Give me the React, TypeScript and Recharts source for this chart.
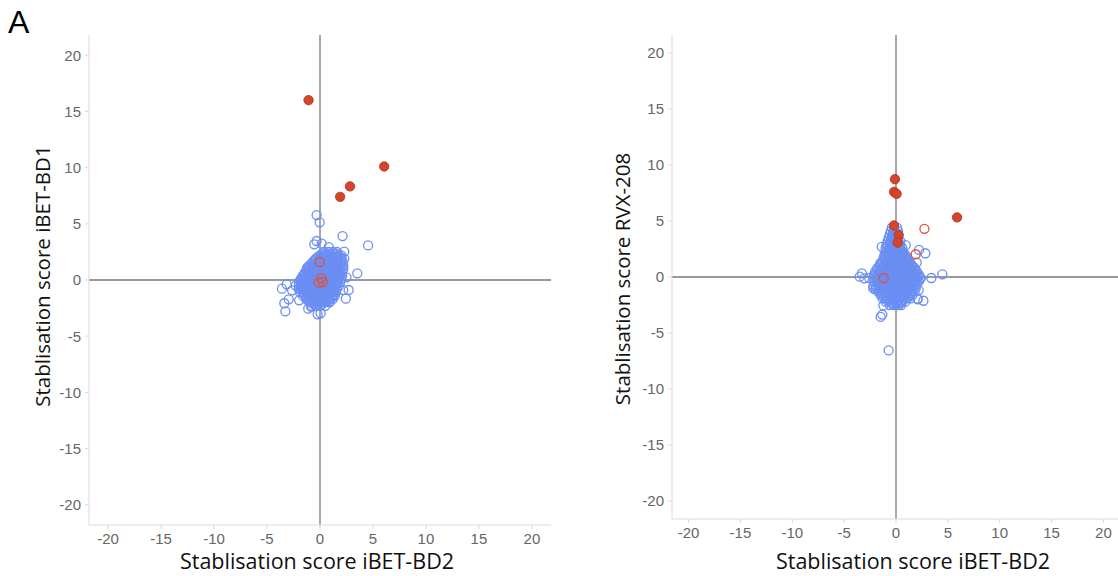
import { ScatterChart, Scatter, XAxis, YAxis, ReferenceLine } from "recharts"

type Pt = [number, number]

const tickValues = [-20, -15, -10, -5, 0, 5, 10, 15, 20]

// panel 1: iBET-BD2 (x) vs iBET-BD1 (y)
const bd1Hits: Pt[] = [
  [-1.08, 16.0], [6.06, 10.1], [2.83, 8.33], [1.9, 7.4],
]
const bd1OpenHits: Pt[] = [
  [-0.03, 1.6], [0.13, 0.15], [-0.13, -0.24], [0.25, -0.18],
]
const bd1Outliers: Pt[] = [
  [-0.32, 5.78], [-0.03, 5.13], [2.13, 3.91], [4.54, 3.08], [-0.32, 3.47],
  [-0.54, 3.17], [0.16, 3.23], [0.83, 2.93], [2.29, 2.52], [2.29, 1.9],
  [3.52, 0.59], [2.5, 0.24], [2.7, -0.89], [2.19, -0.89], [2.44, -1.66],
  [0.95, -1.9], [-3.14, -0.38], [-3.59, -0.77], [-2.63, -0.92], [-2.29, -0.5],
  [-2.95, -1.72], [-3.37, -2.07], [-3.27, -2.79], [-1.97, -1.81], [-1.11, -2.55],
  [-0.83, -2.4], [-0.22, -3.05], [0.06, -2.96], [-1.21, 1.1], [-1.81, 0.06],
]
const bd1Core: Pt[] = [
  [0.4, 2.5], [0.8, 2.5], [1.2, 2.5], [1.6, 2.5],
  [0.0, 2.2], [0.35, 2.2], [0.7, 2.2], [1.05, 2.2], [1.4, 2.2], [1.75, 2.2], [2.0, 2.2],
  [-0.4, 1.9], [-0.05, 1.9], [0.3, 1.9], [0.65, 1.9], [1.0, 1.9], [1.35, 1.9], [1.7, 1.9], [2.05, 1.9],
  [-0.7, 1.6], [-0.35, 1.6], [0.0, 1.6], [0.35, 1.6], [0.7, 1.6], [1.05, 1.6], [1.4, 1.6], [1.75, 1.6], [2.15, 1.6],
  [-1.0, 1.3], [-0.65, 1.3], [-0.3, 1.3], [0.05, 1.3], [0.4, 1.3], [0.75, 1.3], [1.1, 1.3], [1.45, 1.3], [1.8, 1.3], [2.2, 1.3],
  [-1.2, 1.0], [-0.85, 1.0], [-0.5, 1.0], [-0.15, 1.0], [0.2, 1.0], [0.55, 1.0], [0.9, 1.0], [1.25, 1.0], [1.6, 1.0], [1.95, 1.0], [2.2, 1.0],
  [-1.4, 0.7], [-1.05, 0.7], [-0.7, 0.7], [-0.35, 0.7], [0.0, 0.7], [0.35, 0.7], [0.7, 0.7], [1.05, 0.7], [1.4, 0.7], [1.75, 0.7], [2.1, 0.7],
  [-1.6, 0.4], [-1.25, 0.4], [-0.9, 0.4], [-0.55, 0.4], [-0.2, 0.4], [0.15, 0.4], [0.5, 0.4], [0.85, 0.4], [1.2, 0.4], [1.55, 0.4], [1.9, 0.4], [2.1, 0.4],
  [-1.8, 0.1], [-1.45, 0.1], [-1.1, 0.1], [-0.75, 0.1], [-0.4, 0.1], [-0.05, 0.1], [0.3, 0.1], [0.65, 0.1], [1.0, 0.1], [1.35, 0.1], [1.7, 0.1], [2.0, 0.1],
  [-2.0, -0.2], [-1.65, -0.2], [-1.3, -0.2], [-0.95, -0.2], [-0.6, -0.2], [-0.25, -0.2], [0.1, -0.2], [0.45, -0.2], [0.8, -0.2], [1.15, -0.2], [1.5, -0.2], [1.9, -0.2],
  [-2.0, -0.5], [-1.65, -0.5], [-1.3, -0.5], [-0.95, -0.5], [-0.6, -0.5], [-0.25, -0.5], [0.1, -0.5], [0.45, -0.5], [0.8, -0.5], [1.15, -0.5], [1.5, -0.5], [1.8, -0.5],
  [-2.0, -0.8], [-1.65, -0.8], [-1.3, -0.8], [-0.95, -0.8], [-0.6, -0.8], [-0.25, -0.8], [0.1, -0.8], [0.45, -0.8], [0.8, -0.8], [1.15, -0.8], [1.6, -0.8],
  [-1.9, -1.1], [-1.55, -1.1], [-1.2, -1.1], [-0.85, -1.1], [-0.5, -1.1], [-0.15, -1.1], [0.2, -1.1], [0.55, -1.1], [0.9, -1.1], [1.25, -1.1], [1.5, -1.1],
  [-1.6, -1.4], [-1.25, -1.4], [-0.9, -1.4], [-0.55, -1.4], [-0.2, -1.4], [0.15, -1.4], [0.5, -1.4], [0.85, -1.4], [1.2, -1.4], [1.4, -1.4],
  [-1.3, -1.7], [-0.95, -1.7], [-0.6, -1.7], [-0.25, -1.7], [0.1, -1.7], [0.45, -1.7], [0.8, -1.7], [1.2, -1.7],
  [-1.0, -2.0], [-0.65, -2.0], [-0.3, -2.0], [0.05, -2.0], [0.4, -2.0], [0.9, -2.0],
  [-0.8, -2.3], [-0.4, -2.3], [0.0, -2.3], [0.5, -2.3],
]
const bd1CoreFill: Pt[] = [
  [0.2, 2.35], [0.55, 2.35], [0.9, 2.35], [1.25, 2.35], [1.6, 2.35],
  [-0.2, 2.05], [0.15, 2.05], [0.5, 2.05], [0.85, 2.05], [1.2, 2.05], [1.55, 2.05], [1.9, 2.05],
  [-0.5, 1.75], [-0.15, 1.75], [0.2, 1.75], [0.55, 1.75], [0.9, 1.75], [1.25, 1.75], [1.6, 1.75], [1.95, 1.75],
  [-0.8, 1.45], [-0.45, 1.45], [-0.1, 1.45], [0.25, 1.45], [0.6, 1.45], [0.95, 1.45], [1.3, 1.45], [1.65, 1.45], [2.0, 1.45],
  [-1.05, 1.15], [-0.7, 1.15], [-0.35, 1.15], [0.0, 1.15], [0.35, 1.15], [0.7, 1.15], [1.05, 1.15], [1.4, 1.15], [1.75, 1.15], [2.05, 1.15],
  [-1.25, 0.85], [-0.9, 0.85], [-0.55, 0.85], [-0.2, 0.85], [0.15, 0.85], [0.5, 0.85], [0.85, 0.85], [1.2, 0.85], [1.55, 0.85], [1.9, 0.85],
  [-1.45, 0.55], [-1.1, 0.55], [-0.75, 0.55], [-0.4, 0.55], [-0.05, 0.55], [0.3, 0.55], [0.65, 0.55], [1.0, 0.55], [1.35, 0.55], [1.7, 0.55], [1.95, 0.55],
  [-1.65, 0.25], [-1.3, 0.25], [-0.95, 0.25], [-0.6, 0.25], [-0.25, 0.25], [0.1, 0.25], [0.45, 0.25], [0.8, 0.25], [1.15, 0.25], [1.5, 0.25], [1.85, 0.25],
  [-1.8, -0.05], [-1.45, -0.05], [-1.1, -0.05], [-0.75, -0.05], [-0.4, -0.05], [-0.05, -0.05], [0.3, -0.05], [0.65, -0.05], [1.0, -0.05], [1.35, -0.05], [1.7, -0.05],
  [-1.8, -0.35], [-1.45, -0.35], [-1.1, -0.35], [-0.75, -0.35], [-0.4, -0.35], [-0.05, -0.35], [0.3, -0.35], [0.65, -0.35], [1.0, -0.35], [1.35, -0.35], [1.65, -0.35],
  [-1.8, -0.65], [-1.45, -0.65], [-1.1, -0.65], [-0.75, -0.65], [-0.4, -0.65], [-0.05, -0.65], [0.3, -0.65], [0.65, -0.65], [1.0, -0.65], [1.35, -0.65],
  [-1.75, -0.95], [-1.4, -0.95], [-1.05, -0.95], [-0.7, -0.95], [-0.35, -0.95], [0.0, -0.95], [0.35, -0.95], [0.7, -0.95], [1.05, -0.95], [1.35, -0.95],
  [-1.5, -1.25], [-1.15, -1.25], [-0.8, -1.25], [-0.45, -1.25], [-0.1, -1.25], [0.25, -1.25], [0.6, -1.25], [0.95, -1.25], [1.3, -1.25],
  [-1.25, -1.55], [-0.9, -1.55], [-0.55, -1.55], [-0.2, -1.55], [0.15, -1.55], [0.5, -1.55], [0.85, -1.55], [1.15, -1.55],
  [-1.0, -1.85], [-0.65, -1.85], [-0.3, -1.85], [0.05, -1.85], [0.4, -1.85], [0.75, -1.85],
  [-0.6, -2.15], [-0.2, -2.15], [0.2, -2.15],
]

// panel 2: iBET-BD2 (x) vs RVX-208 (y)
const rvxHits: Pt[] = [
  [-0.1, 8.73], [-0.19, 7.6], [0.06, 7.42], [-0.19, 4.6], [0.26, 3.74], [0.16, 3.08], [5.89, 5.32],
]
const rvxOpenHits: Pt[] = [
  [2.74, 4.3], [1.9, 2.03], [-1.19, -0.09],
]
const rvxOutliers: Pt[] = [
  [-0.71, -6.55], [-1.48, -3.56], [-1.32, -3.35], [-1.22, -2.54], [-0.32, -2.39],
  [0.48, -2.3], [2.06, -1.94], [2.64, -2.12], [4.47, 0.24], [3.41, -0.09],
  [2.83, 2.12], [2.22, 2.42], [2.0, 1.29], [0.94, 2.84], [-1.38, 2.69],
  [-1.51, 1.23], [-3.5, 0.03], [-3.28, 0.33], [-3.06, -0.12], [-2.58, -0.09],
  [-2.19, -0.81], [-2.0, -1.1], [2.19, -1.17], [2.0, -0.51], [2.32, -0.06],
  [-2.19, -1.02], [2.1, -2.0],
]
const rvxCore: Pt[] = [
  [-0.4, 4.4], [0.1, 4.4],
  [-0.5, 4.1], [-0.1, 4.1], [0.2, 4.1],
  [-0.6, 3.8], [-0.2, 3.8], [0.2, 3.8],
  [-0.7, 3.5], [-0.3, 3.5], [0.1, 3.5],
  [-0.8, 3.2], [-0.4, 3.2], [0.0, 3.2], [0.4, 3.2],
  [-0.9, 2.9], [-0.5, 2.9], [-0.1, 2.9], [0.3, 2.9],
  [-1.0, 2.6], [-0.6, 2.6], [-0.2, 2.6], [0.2, 2.6], [0.6, 2.6],
  [-1.0, 2.3], [-0.6, 2.3], [-0.2, 2.3], [0.2, 2.3], [0.6, 2.3],
  [-1.1, 2.0], [-0.7, 2.0], [-0.3, 2.0], [0.1, 2.0], [0.5, 2.0], [0.9, 2.0],
  [-1.2, 1.7], [-0.8, 1.7], [-0.4, 1.7], [0.0, 1.7], [0.4, 1.7], [0.8, 1.7], [1.1, 1.7],
  [-1.3, 1.4], [-0.9, 1.4], [-0.5, 1.4], [-0.1, 1.4], [0.3, 1.4], [0.7, 1.4], [1.0, 1.4], [1.3, 1.4],
  [-1.5, 1.1], [-1.1, 1.1], [-0.7, 1.1], [-0.3, 1.1], [0.1, 1.1], [0.5, 1.1], [0.9, 1.1], [1.2, 1.1], [1.5, 1.1],
  [-1.8, 0.8], [-1.4, 0.8], [-1.0, 0.8], [-0.6, 0.8], [-0.2, 0.8], [0.2, 0.8], [0.6, 0.8], [1.0, 0.8], [1.4, 0.8], [1.8, 0.8],
  [-2.0, 0.5], [-1.6, 0.5], [-1.2, 0.5], [-0.8, 0.5], [-0.4, 0.5], [0.0, 0.5], [0.4, 0.5], [0.8, 0.5], [1.2, 0.5], [1.6, 0.5], [2.0, 0.5],
  [-2.1, 0.2], [-1.7, 0.2], [-1.3, 0.2], [-0.9, 0.2], [-0.5, 0.2], [-0.1, 0.2], [0.3, 0.2], [0.7, 0.2], [1.1, 0.2], [1.5, 0.2], [1.9, 0.2], [2.2, 0.2],
  [-2.1, -0.1], [-1.7, -0.1], [-1.3, -0.1], [-0.9, -0.1], [-0.5, -0.1], [-0.1, -0.1], [0.3, -0.1], [0.7, -0.1], [1.1, -0.1], [1.5, -0.1], [1.9, -0.1], [2.4, -0.1],
  [-2.1, -0.4], [-1.7, -0.4], [-1.3, -0.4], [-0.9, -0.4], [-0.5, -0.4], [-0.1, -0.4], [0.3, -0.4], [0.7, -0.4], [1.1, -0.4], [1.5, -0.4], [1.9, -0.4], [2.2, -0.4],
  [-2.0, -0.7], [-1.6, -0.7], [-1.2, -0.7], [-0.8, -0.7], [-0.4, -0.7], [0.0, -0.7], [0.4, -0.7], [0.8, -0.7], [1.2, -0.7], [1.6, -0.7], [2.0, -0.7],
  [-1.9, -1.0], [-1.5, -1.0], [-1.1, -1.0], [-0.7, -1.0], [-0.3, -1.0], [0.1, -1.0], [0.5, -1.0], [0.9, -1.0], [1.3, -1.0], [1.6, -1.0], [1.9, -1.0],
  [-1.7, -1.3], [-1.3, -1.3], [-0.9, -1.3], [-0.5, -1.3], [-0.1, -1.3], [0.3, -1.3], [0.7, -1.3], [1.1, -1.3], [1.5, -1.3], [1.8, -1.3],
  [-1.5, -1.6], [-1.1, -1.6], [-0.7, -1.6], [-0.3, -1.6], [0.1, -1.6], [0.5, -1.6], [0.9, -1.6], [1.3, -1.6], [1.6, -1.6],
  [-1.3, -1.9], [-0.9, -1.9], [-0.5, -1.9], [-0.1, -1.9], [0.3, -1.9], [0.7, -1.9], [1.1, -1.9], [1.4, -1.9],
  [-1.0, -2.2], [-0.6, -2.2], [-0.2, -2.2], [0.2, -2.2], [0.6, -2.2], [0.9, -2.2],
  [-0.6, -2.5], [-0.2, -2.5], [0.2, -2.5], [0.5, -2.5],
]
const rvxCoreFill: Pt[] = [
  [-0.2, 4.25],
  [-0.3, 3.95], [0.0, 3.95],
  [-0.4, 3.65], [0.0, 3.65],
  [-0.5, 3.35], [-0.1, 3.35], [0.2, 3.35],
  [-0.6, 3.05], [-0.2, 3.05], [0.2, 3.05],
  [-0.8, 2.75], [-0.4, 2.75], [0.0, 2.75], [0.4, 2.75],
  [-0.8, 2.45], [-0.4, 2.45], [0.0, 2.45], [0.4, 2.45],
  [-0.9, 2.15], [-0.5, 2.15], [-0.1, 2.15], [0.3, 2.15], [0.7, 2.15],
  [-1.0, 1.85], [-0.6, 1.85], [-0.2, 1.85], [0.2, 1.85], [0.6, 1.85], [0.9, 1.85],
  [-1.1, 1.55], [-0.7, 1.55], [-0.3, 1.55], [0.1, 1.55], [0.5, 1.55], [0.9, 1.55], [1.1, 1.55],
  [-1.3, 1.25], [-0.9, 1.25], [-0.5, 1.25], [-0.1, 1.25], [0.3, 1.25], [0.7, 1.25], [1.1, 1.25], [1.3, 1.25],
  [-1.6, 0.95], [-1.2, 0.95], [-0.8, 0.95], [-0.4, 0.95], [0.0, 0.95], [0.4, 0.95], [0.8, 0.95], [1.2, 0.95], [1.6, 0.95],
  [-1.8, 0.65], [-1.4, 0.65], [-1.0, 0.65], [-0.6, 0.65], [-0.2, 0.65], [0.2, 0.65], [0.6, 0.65], [1.0, 0.65], [1.4, 0.65], [1.8, 0.65],
  [-1.9, 0.35], [-1.5, 0.35], [-1.1, 0.35], [-0.7, 0.35], [-0.3, 0.35], [0.1, 0.35], [0.5, 0.35], [0.9, 0.35], [1.3, 0.35], [1.7, 0.35], [2.0, 0.35],
  [-1.9, 0.05], [-1.5, 0.05], [-1.1, 0.05], [-0.7, 0.05], [-0.3, 0.05], [0.1, 0.05], [0.5, 0.05], [0.9, 0.05], [1.3, 0.05], [1.7, 0.05], [2.1, 0.05],
  [-1.9, -0.25], [-1.5, -0.25], [-1.1, -0.25], [-0.7, -0.25], [-0.3, -0.25], [0.1, -0.25], [0.5, -0.25], [0.9, -0.25], [1.3, -0.25], [1.7, -0.25], [2.0, -0.25],
  [-1.8, -0.55], [-1.4, -0.55], [-1.0, -0.55], [-0.6, -0.55], [-0.2, -0.55], [0.2, -0.55], [0.6, -0.55], [1.0, -0.55], [1.4, -0.55], [1.8, -0.55],
  [-1.7, -0.85], [-1.3, -0.85], [-0.9, -0.85], [-0.5, -0.85], [-0.1, -0.85], [0.3, -0.85], [0.7, -0.85], [1.1, -0.85], [1.5, -0.85], [1.8, -0.85],
  [-1.6, -1.15], [-1.2, -1.15], [-0.8, -1.15], [-0.4, -1.15], [0.0, -1.15], [0.4, -1.15], [0.8, -1.15], [1.2, -1.15], [1.6, -1.15],
  [-1.4, -1.45], [-1.0, -1.45], [-0.6, -1.45], [-0.2, -1.45], [0.2, -1.45], [0.6, -1.45], [1.0, -1.45], [1.4, -1.45],
  [-1.2, -1.75], [-0.8, -1.75], [-0.4, -1.75], [0.0, -1.75], [0.4, -1.75], [0.8, -1.75], [1.2, -1.75],
  [-0.9, -2.05], [-0.5, -2.05], [-0.1, -2.05], [0.3, -2.05], [0.7, -2.05],
  [-0.4, -2.35], [0.0, -2.35], [0.4, -2.35],
]

const BLUE = "#6b8ef3"
const RED = "#d6452b"
const RED_EDGE = "#a8361f"
const RED_OPEN = "#e2513a"
const TICK_GREY = "#666"
const AXIS_GREY = "#d9d9e3"

const toRows = (pts: Pt[]) => pts.map(([x, y]) => ({ x, y }))

const ring = (color: string) => (props: any) =>
  <circle cx={props.cx} cy={props.cy} r={4.5} fill="none" stroke={color} strokeWidth={1.3} />

const solid = (props: any) =>
  <circle cx={props.cx} cy={props.cy} r={4.7} fill={RED} stroke={RED_EDGE} strokeWidth={0.8} />

type PanelProps = {
  left: number
  width: number
  xAxisHeight: number
  xHalf: number
  yHalf: number
  core: Pt[]
  coreFill: Pt[]
  outliers: Pt[]
  openHits: Pt[]
  hits: Pt[]
}

function Panel({ left, width, xAxisHeight, xHalf, yHalf, core, coreFill, outliers, openHits, hits }: PanelProps) {
  const tickStyle = { fill: TICK_GREY, fontSize: 15, fontFamily: "Liberation Sans, Arial, sans-serif" }
  return (
    <div style={{ position: "absolute", left, top: 0 }}>
      <ScatterChart width={width} height={576} margin={{ top: 35, right: 9, left: 0, bottom: 0 }}>
        <XAxis
          type="number"
          dataKey="x"
          domain={[-xHalf, xHalf]}
          ticks={tickValues}
          allowDataOverflow
          height={xAxisHeight}
          tick={tickStyle}
          tickSize={4}
          tickMargin={4}
          stroke={AXIS_GREY}
        />
        <YAxis
          type="number"
          dataKey="y"
          domain={[-yHalf, yHalf]}
          ticks={tickValues}
          allowDataOverflow
          width={89}
          tick={tickStyle}
          tickSize={4}
          tickMargin={4}
          stroke={AXIS_GREY}
        />
        <Scatter data={toRows(coreFill)} shape={ring(BLUE)} isAnimationActive={false} />
        <Scatter data={toRows(core)} shape={ring(BLUE)} isAnimationActive={false} />
        <Scatter data={toRows(outliers)} shape={ring(BLUE)} isAnimationActive={false} />
        <ReferenceLine y={0} stroke="#9a9a9a" strokeWidth={1.8} />
        <ReferenceLine x={0} stroke="#6e6e6e" strokeWidth={1.2} />
        <Scatter data={toRows(openHits)} shape={ring(RED_OPEN)} isAnimationActive={false} />
        <Scatter data={toRows(hits)} shape={solid} isAnimationActive={false} />
      </ScatterChart>
    </div>
  )
}

const titleFont = "'Open Sans', 'Noto Sans', sans-serif"

function Title({ text, cx, cy, size, vertical }: { text: string; cx: number; cy: number; size: number; vertical?: boolean }) {
  return (
    <div
      style={{
        position: "absolute",
        left: cx,
        top: cy,
        transform: `translate(-50%, -50%)${vertical ? " rotate(-90deg)" : ""}`,
        whiteSpace: "nowrap",
        fontFamily: titleFont,
        fontSize: size,
        lineHeight: 1.2,
        color: "#111",
      }}
    >
      {text}
    </div>
  )
}

export default function App() {
  return (
    <div
      style={{
        position: "fixed",
        left: 0,
        top: 0,
        width: 1118,
        height: 576,
        overflow: "hidden",
        background: "#fff",
      }}
    >
      <div
        style={{
          position: "absolute",
          left: 8,
          top: 6,
          fontFamily: "Liberation Sans, Arial, sans-serif",
          fontSize: 32,
          lineHeight: "32px",
          color: "#000",
        }}
      >
        A
      </div>
      <Panel
        left={0}
        width={560}
        xAxisHeight={51}
        xHalf={21.8}
        yHalf={21.8}
        core={bd1Core}
        coreFill={bd1CoreFill}
        outliers={bd1Outliers}
        openHits={bd1OpenHits}
        hits={bd1Hits}
      />
      <Panel
        left={583}
        width={546}
        xAxisHeight={57}
        xHalf={21.6}
        yHalf={21.6}
        core={rvxCore}
        coreFill={rvxCoreFill}
        outliers={rvxOutliers}
        openHits={rvxOpenHits}
        hits={rvxHits}
      />
      <Title text="Stablisation score iBET-BD2" cx={317} cy={561} size={21.5} />
      <Title text="Stablisation score iBET-BD2" cx={913} cy={561} size={21.5} />
      <Title text="Stablisation score iBET-BD1" cx={42} cy={276} size={20.5} vertical />
      <Title text="Stablisation score RVX-208" cx={622} cy={279} size={20.5} vertical />
    </div>
  )
}
